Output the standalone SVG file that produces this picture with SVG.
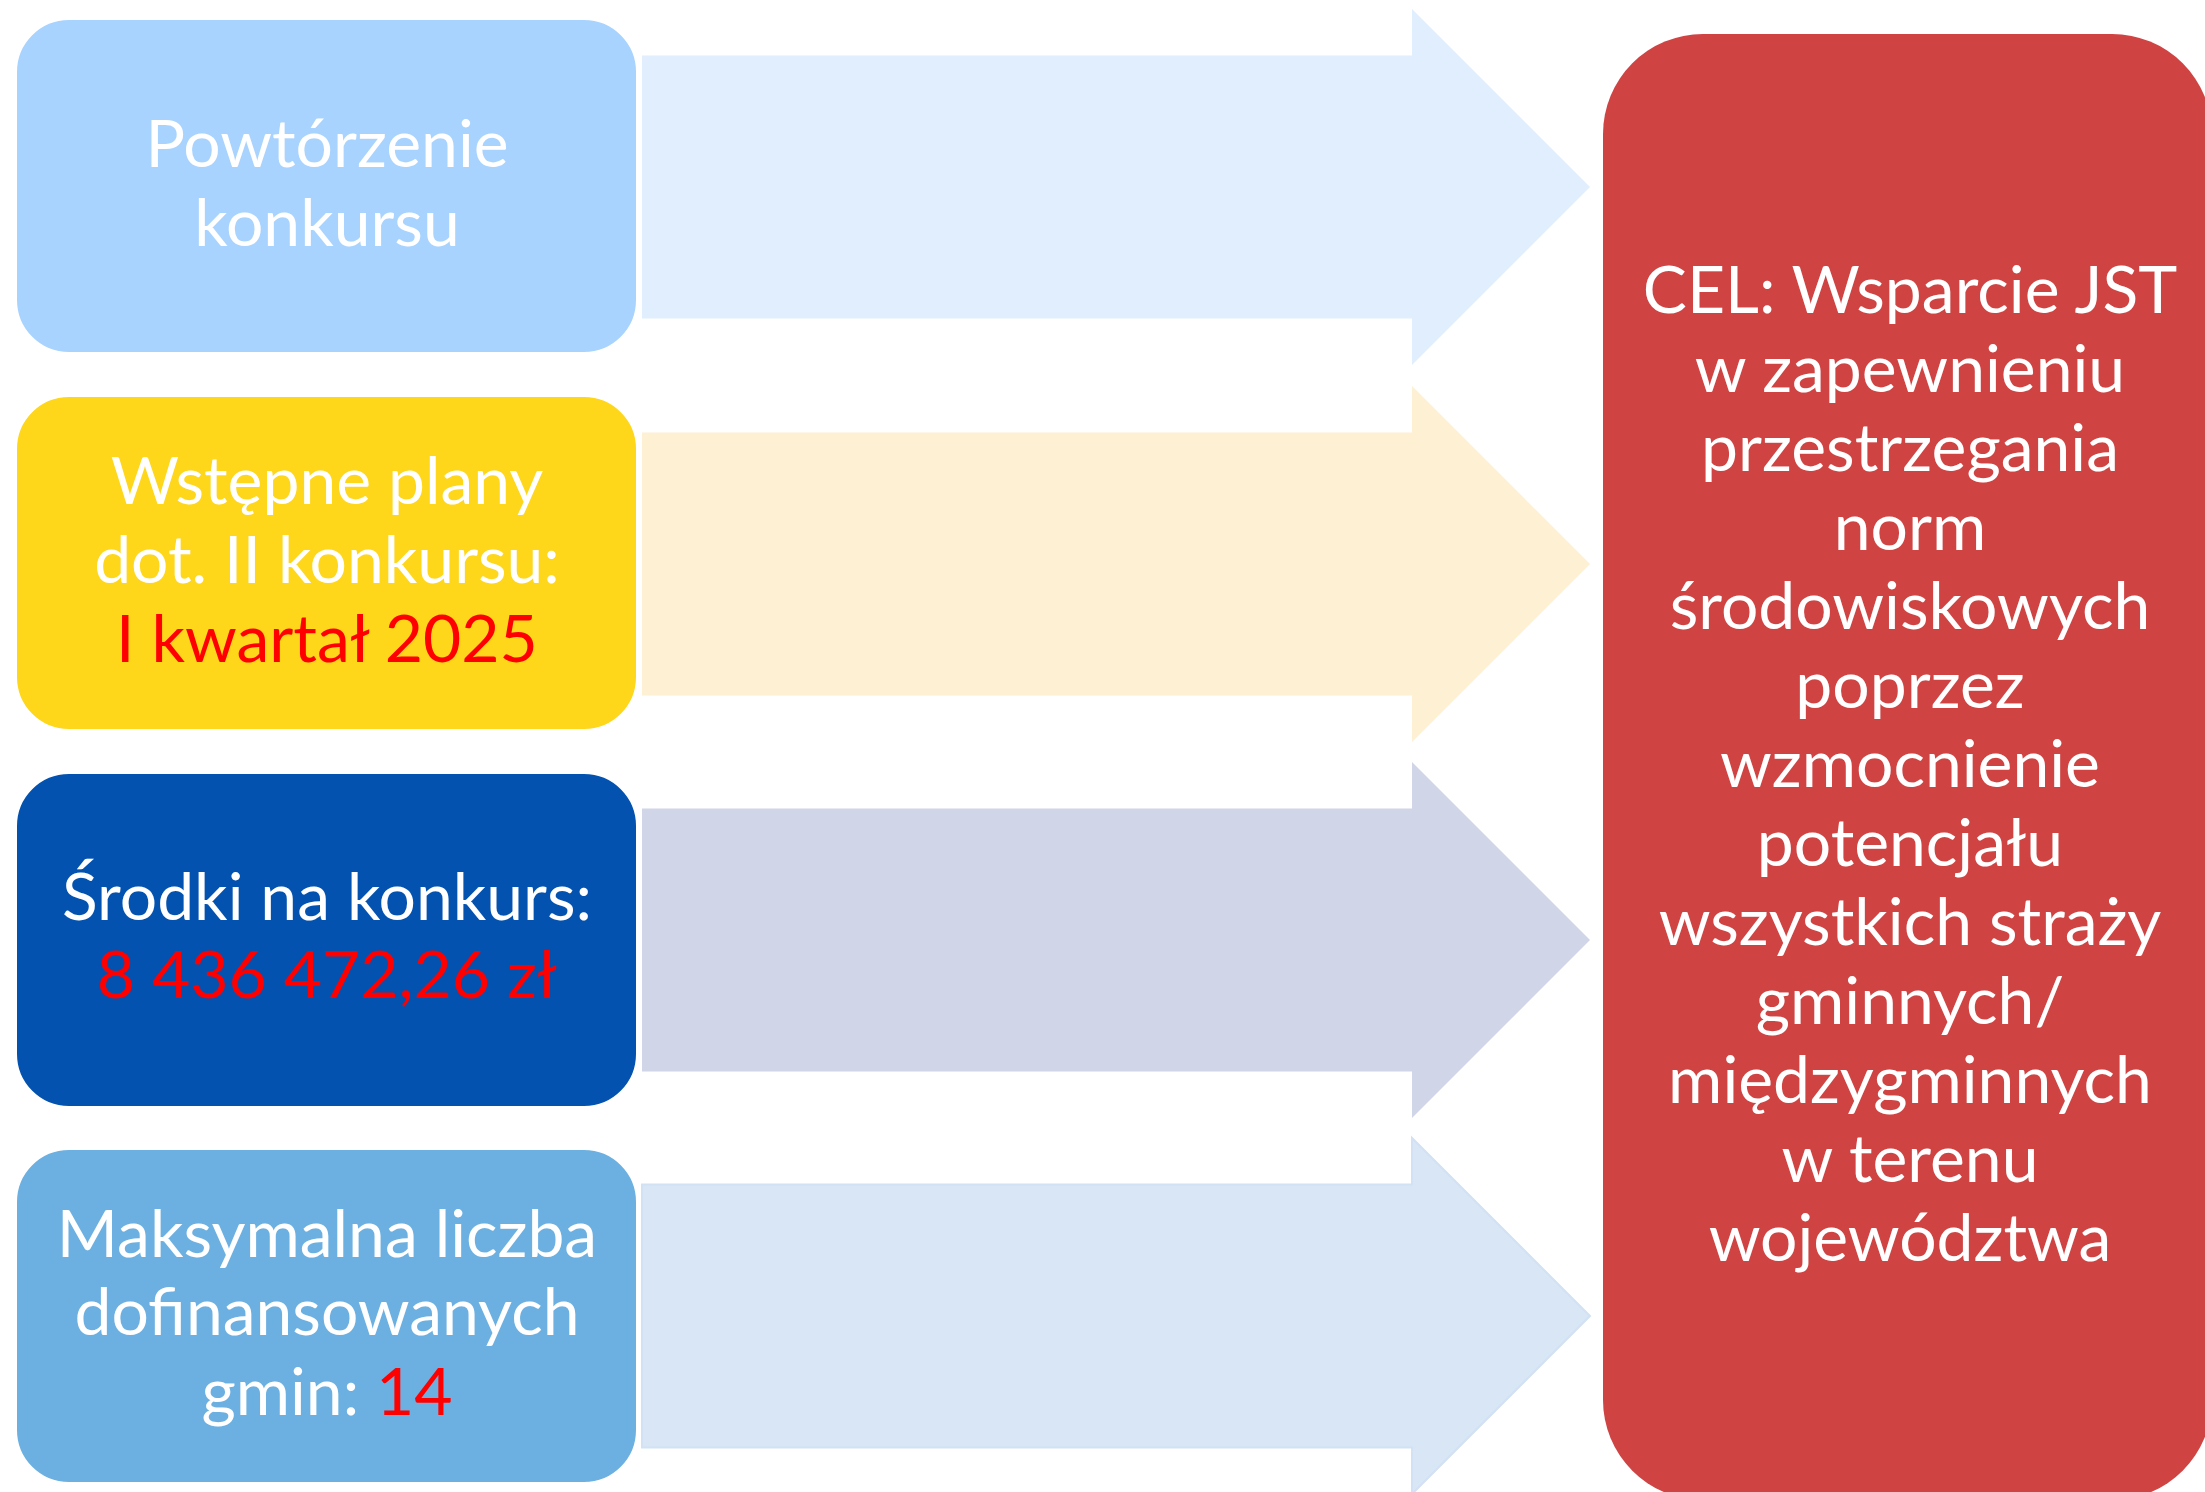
<svg xmlns="http://www.w3.org/2000/svg" width="2205" height="1492" viewBox="0 0 2205 1492">
<style>
  .box { stroke: #FFFFFF; stroke-width: 4; }
  .t { font-family: Lato, "Open Sans", "Liberation Sans", sans-serif; font-size: 66px; fill: #FFFFFF; text-anchor: middle; }
  .red { fill: #FF0000; }
</style>
<defs>
  <path id="arrow" d="M 0 -131.5 L 770 -131.5 L 770 -178 L 948 0 L 770 178 L 770 131.5 L 0 131.5 Z"/>
</defs>
<rect width="2205" height="1492" fill="#FFFFFF"/>
<g id="connectors">
  <use href="#arrow" x="642" y="187" fill="#E0EEFD"/>
  <use href="#arrow" x="642" y="564" fill="#FEF0D3"/>
  <use href="#arrow" x="642" y="940" fill="#D0D5E7"/>
  <use href="#arrow" x="642" y="1316" fill="#D9E6F5" stroke="#D2E1F3" stroke-width="2"/>
</g>
<g id="node1">
  <rect class="box" x="15" y="18" width="623" height="336" rx="54" fill="#A8D3FE"/>
  <text class="t" x="327" y="167">Powtórzenie</text>
  <text class="t" x="327" y="246">konkursu</text>
</g>
<g id="node2">
  <rect class="box" x="15" y="395" width="623" height="336" rx="54" fill="#FED61A"/>
  <text class="t" x="327" y="504">Wstępne plany</text>
  <text class="t" x="327" y="583">dot. II konkursu:</text>
  <text class="t red" x="327" y="662">I kwartał 2025</text>
</g>
<g id="node3">
  <rect class="box" x="15" y="772" width="623" height="336" rx="54" fill="#0352B0"/>
  <text class="t" x="327" y="920">Środki na konkurs:</text>
  <text class="t red" x="327" y="998">8 436 472,26 zł</text>
</g>
<g id="node4">
  <rect class="box" x="15" y="1148" width="623" height="336" rx="54" fill="#6CB0E1"/>
  <text class="t" x="327" y="1257">Maksymalna liczba</text>
  <text class="t" x="327" y="1335">dofinansowanych</text>
  <text class="t" x="327" y="1415">gmin: <tspan class="red">14</tspan></text>
</g>
<g id="node5">
  <rect x="1603" y="34" width="609" height="1466" rx="100" fill="#CF4343"/>
  <text class="t" x="1910" y="313">CEL: Wsparcie JST</text>
  <text class="t" x="1910" y="392">w zapewnieniu</text>
  <text class="t" x="1910" y="471">przestrzegania</text>
  <text class="t" x="1910" y="550">norm</text>
  <text class="t" x="1910" y="629">środowiskowych</text>
  <text class="t" x="1910" y="708">poprzez</text>
  <text class="t" x="1910" y="787">wzmocnienie</text>
  <text class="t" x="1910" y="866">potencjału</text>
  <text class="t" x="1910" y="945">wszystkich straży</text>
  <text class="t" x="1910" y="1024">gminnych/</text>
  <text class="t" x="1910" y="1103">międzygminnych</text>
  <text class="t" x="1910" y="1182">w terenu</text>
  <text class="t" x="1910" y="1261">województwa</text>
</g>
</svg>
